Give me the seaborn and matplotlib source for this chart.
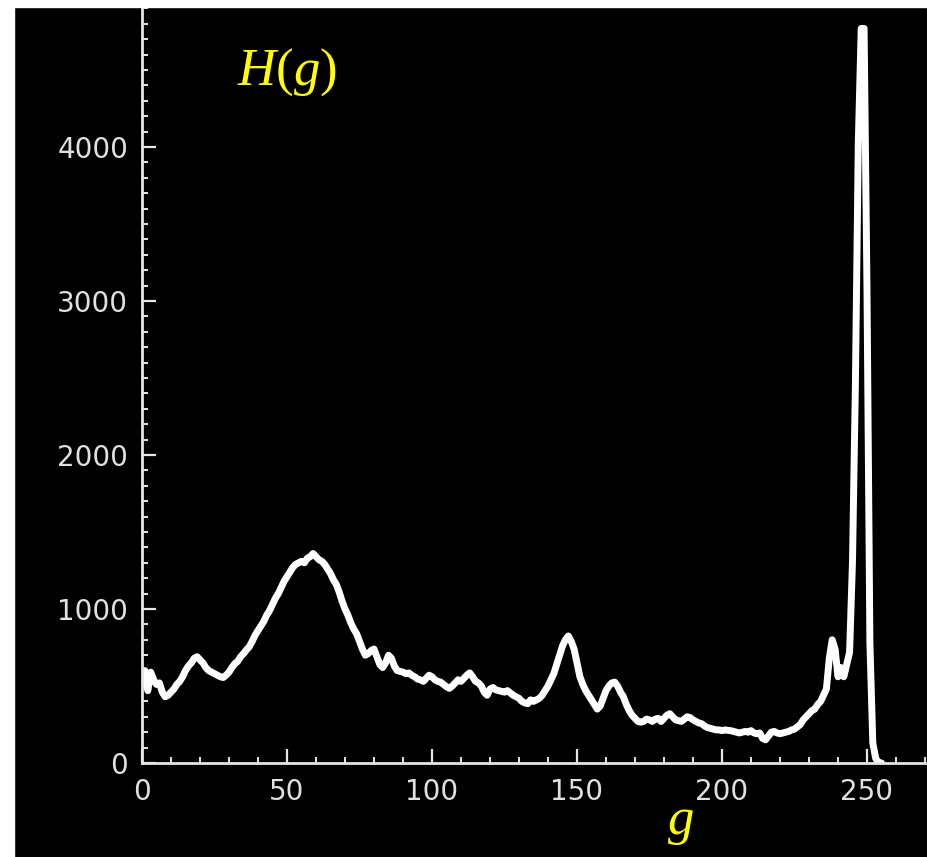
import numpy as np
import pandas as pd
import matplotlib
matplotlib.use("Agg")
import matplotlib.pyplot as plt
from matplotlib.patches import Rectangle
from matplotlib.ticker import MultipleLocator
import seaborn as sns

# grey level histogram H(g), g = 0..255
gray_levels = list(range(256))
counts = [
    560, 600, 470, 590, 540, 510, 520, 460, 430, 440,      # 0-9
    460, 480, 510, 530, 560, 600, 630, 650, 680, 690,      # 10-19
    670, 650, 620, 600, 590, 580, 570, 560, 555, 570,      # 20-29
    590, 620, 645, 660, 690, 710, 735, 755, 790, 830,      # 30-39
    860, 890, 920, 960, 990, 1030, 1070, 1100, 1140, 1180,  # 40-49
    1210, 1240, 1270, 1290, 1300, 1310, 1300, 1330, 1340, 1360,  # 50-59
    1340, 1320, 1310, 1290, 1260, 1230, 1190, 1160, 1110, 1050,  # 60-69
    1000, 960, 910, 870, 840, 790, 740, 700, 710, 730,     # 70-79
    740, 690, 640, 620, 650, 700, 680, 630, 600, 595,      # 80-89
    590, 580, 585, 570, 560, 545, 540, 530, 550, 570,      # 90-99
    560, 540, 530, 525, 510, 495, 485, 500, 520, 540,      # 100-109
    530, 550, 570, 585, 560, 530, 520, 500, 460, 440,      # 110-119
    480, 490, 475, 470, 465, 460, 470, 455, 440, 430,      # 120-129
    420, 400, 390, 385, 410, 400, 410, 420, 440, 470,      # 130-139
    500, 540, 580, 640, 700, 760, 800, 825, 790, 740,      # 140-149
    650, 560, 510, 470, 440, 410, 380, 350, 370, 420,      # 150-159
    470, 500, 520, 525, 500, 460, 430, 380, 340, 310,      # 160-169
    290, 270, 265, 270, 285, 280, 270, 285, 290, 270,      # 170-179
    290, 310, 320, 300, 280, 275, 270, 285, 300, 295,      # 180-189
    280, 270, 260, 255, 240, 230, 225, 220, 215, 215,      # 190-199
    210, 215, 212, 210, 205, 200, 195, 200, 205, 200,      # 200-209
    210, 195, 190, 195, 160, 150, 175, 200, 205, 195,      # 210-219
    190, 195, 200, 205, 215, 220, 235, 250, 280, 300,      # 220-229
    320, 340, 350, 380, 400, 440, 480, 680, 800, 740,      # 230-239
    560, 620, 560, 640, 720, 1310, 2460, 4030, 4770, 4770,  # 240-249
    3070, 780, 130, 30, 0, 0,                              # 250-255
]

x_major = [0, 50, 100, 150, 200, 250]
y_major = [0, 1000, 2000, 3000, 4000, 5000]

df = pd.DataFrame({"g": gray_levels, "H": counts})

sns.set_style("ticks")
plt.rcParams["font.family"] = ["DejaVu Sans"]
plt.rcParams["mathtext.fontset"] = "custom"
plt.rcParams["mathtext.rm"] = "Liberation Serif"
plt.rcParams["mathtext.it"] = "Liberation Serif:italic"

W, H = 928, 857
fig = plt.figure(figsize=(W / 100, H / 100), dpi=100, facecolor="black")

# axes: y spine at x=142px, x spine at y=763px, top runs past the figure edge
x0, y0 = 142, 763
xmax, ymax = 270, 5100
px_x = 2.9
px_y = 0.1540
ax = fig.add_axes([x0 / W, (H - y0) / H, xmax * px_x / W, ymax * px_y / H])
ax.set_facecolor("black")

sns.lineplot(data=df, x="g", y="H", ax=ax, color="white", lw=5.0,
             estimator=None)

ax.set_xlim(0, xmax)
ax.set_ylim(0, ymax)
ax.set_xticks(x_major)
ax.set_yticks(y_major)
ax.xaxis.set_minor_locator(MultipleLocator(10))
ax.yaxis.set_minor_locator(MultipleLocator(100))
ax.set_xlabel("")
ax.set_ylabel("")

axis_col = "#e6e6e6"
for side in ["top", "right"]:
    ax.spines[side].set_visible(False)
for side in ["left", "bottom"]:
    ax.spines[side].set_color(axis_col)
    ax.spines[side].set_linewidth(2.0)

ax.tick_params(which="major", direction="in", length=10, width=1.6, color=axis_col,
               labelcolor="#e0e0e0", labelsize=20)
ax.tick_params(which="minor", direction="in", length=4.5, width=1.4, color=axis_col)
ax.tick_params(axis="x", which="major", pad=11)
ax.tick_params(axis="y", which="major", pad=10)

# yellow labels
fig.text(237 / W, 1 - 85 / H, r"$H(g)$", color="#ffff00", fontsize=38,
         ha="left", va="baseline")
fig.text(680 / W, 1 - 834 / H, r"$g$", color="#ffff00", fontsize=38,
         ha="center", va="baseline")

# white margins on the top and left edges
fig.add_artist(Rectangle((0, 1 - 7 / H), 1, 7 / H, transform=fig.transFigure,
                         color="white", zorder=100))
fig.add_artist(Rectangle((0, 0), 14 / W, 1, transform=fig.transFigure,
                         color="white", zorder=100))

fig.savefig("out.png", dpi=100, facecolor=fig.get_facecolor())
